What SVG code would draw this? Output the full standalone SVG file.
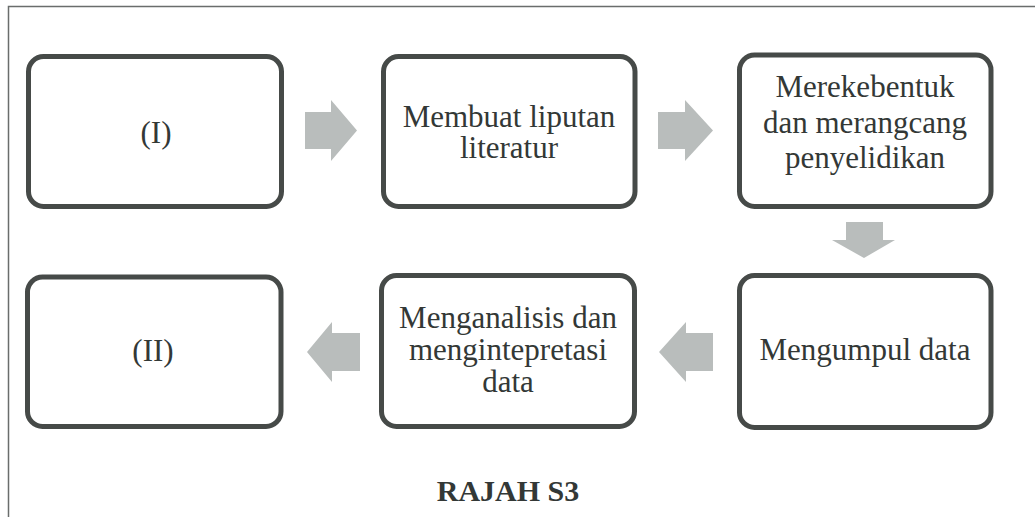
<svg xmlns="http://www.w3.org/2000/svg" width="1035" height="517" viewBox="0 0 1035 517">
<style>
.box{fill:#ffffff;stroke:#464a48;stroke-width:5}
.arr{fill:#b9bdbc}
.t{font-family:"Liberation Serif","DejaVu Serif",serif;font-size:31px;fill:#333836;text-anchor:middle}
.title{font-family:"Liberation Serif","DejaVu Serif",serif;font-size:30px;font-weight:bold;fill:#333836;text-anchor:middle}
</style>
<rect width="1035" height="517" fill="#ffffff"/>
<path d="M8.5,517 V6.5 H1035" fill="none" stroke="#6a6d6c" stroke-width="1.5"/>
<g id="connectors">
<polygon class="arr" points="305,112 331,112 331,100 357,130.5 331,161 331,149 305,149"/>
<polygon class="arr" points="658,112 685,112 685,100 713,130.5 685,161 685,149 658,149"/>
<polygon class="arr" points="846,222 883,222 883,240 895,240 864,258 832,240 846,240"/>
<polygon class="arr" points="713,333 686,333 686,322 659,352 686,382 686,371 713,371"/>
<polygon class="arr" points="360,333 332,333 332,322 307,352 332,382 332,371 360,371"/>
</g>
<g id="node1">
<rect class="box" x="28.5" y="56.5" width="253" height="150" rx="15"/>
<text class="t" x="156" y="143">(I)</text>
</g>
<g id="node2">
<rect class="box" x="383.5" y="56.5" width="251.5" height="150" rx="15"/>
<text class="t" x="509" y="127">Membuat liputan</text>
<text class="t" x="509" y="158">literatur</text>
</g>
<g id="node3">
<rect class="box" x="739.5" y="55" width="251.5" height="151.5" rx="15"/>
<text class="t" x="865" y="97">Merekebentuk</text>
<text class="t" x="865" y="133">dan merangcang</text>
<text class="t" x="865" y="168">penyelidikan</text>
</g>
<g id="node4">
<rect class="box" x="739.5" y="275.5" width="251.5" height="152" rx="15"/>
<text class="t" x="865" y="360">Mengumpul data</text>
</g>
<g id="node5">
<rect class="box" x="381.5" y="275.5" width="253" height="151" rx="15"/>
<text class="t" x="508" y="328">Menganalisis dan</text>
<text class="t" x="508" y="360">mengintepretasi</text>
<text class="t" x="508" y="392">data</text>
</g>
<g id="node6">
<rect class="box" x="27.5" y="277" width="253.5" height="149.5" rx="15"/>
<text class="t" x="153" y="361">(II)</text>
</g>
<text class="title" x="508" y="501">RAJAH S3</text>
</svg>
